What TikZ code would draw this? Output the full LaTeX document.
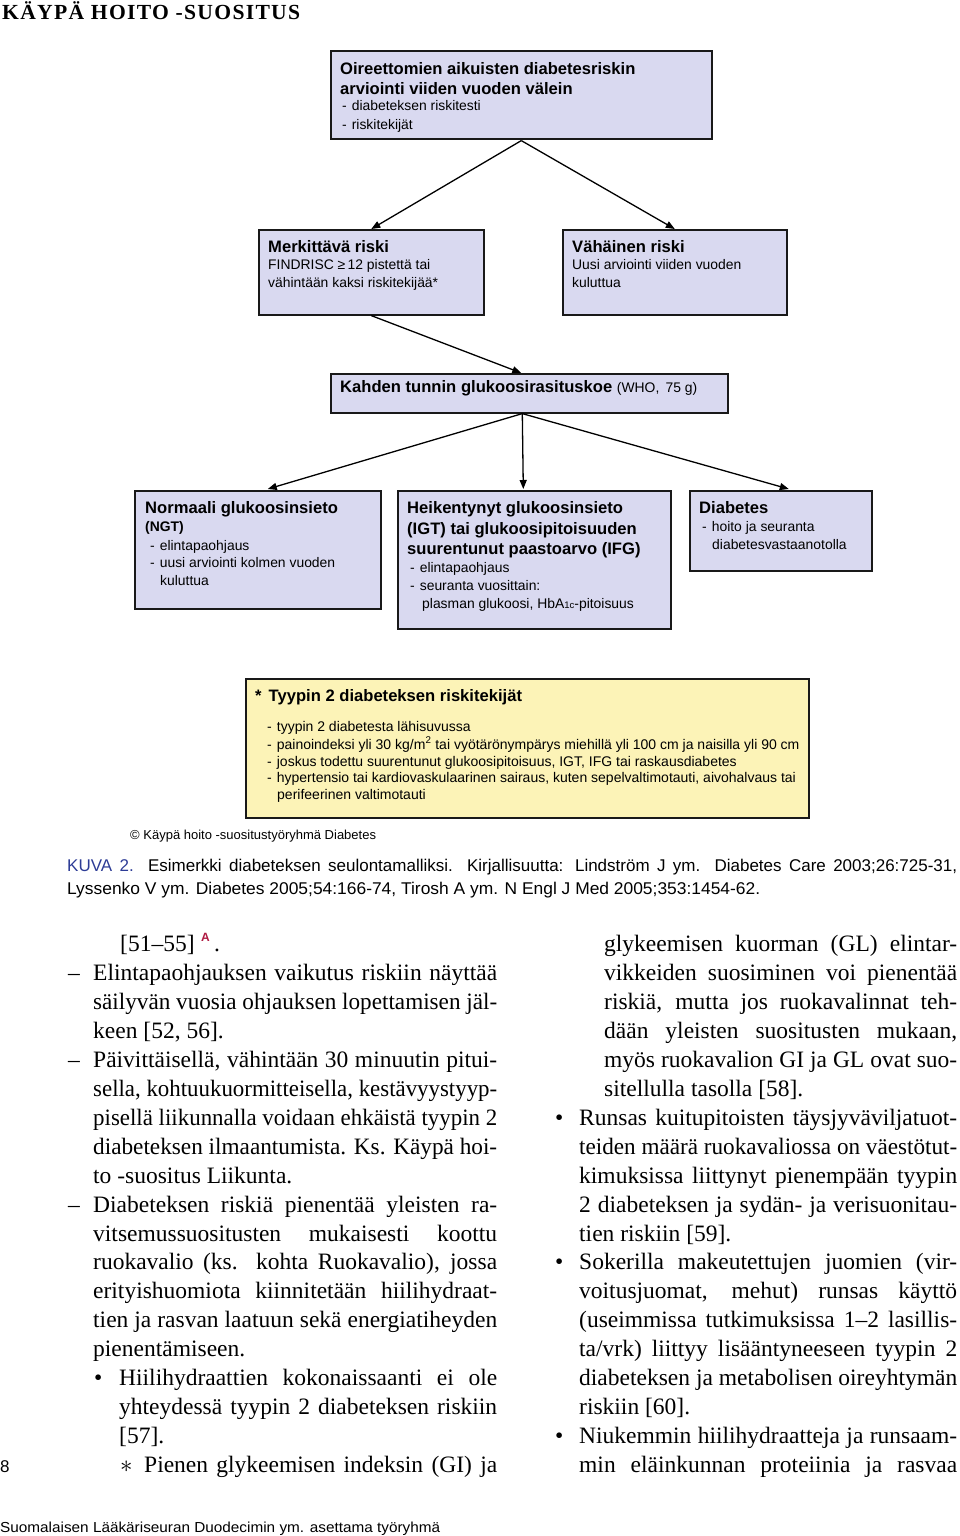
\documentclass[tikz,border=0pt]{standalone}
\usepackage{fontspec}
\usepackage{graphicx}
\setmainfont{Liberation Serif}
\newfontfamily\arial{Liberation Sans}
\newfontfamily\ttlfont[LetterSpace=6]{Liberation Serif}
\usetikzlibrary{arrows.meta,calc}
\definecolor{lav}{RGB}{217,217,240}
\definecolor{yel}{RGB}{252,243,183}
\definecolor{kuva}{RGB}{45,60,150}
\definecolor{reda}{RGB}{175,25,65}
\newsavebox\lbox
\newcommand\jl[2]{\sbox\lbox{#2}\ifdim\wd\lbox>#1\relax\resizebox{#1}{\height}{\usebox\lbox}\else\makebox[#1][s]{#2}\fi}
\newcommand\fitw[2]{\resizebox{#1}{\height}{#2}}
\tikzset{
  box/.style={draw=black!90, line width=1.6pt, fill=lav, inner sep=0pt, anchor=north west},
  ybox/.style={box, fill=yel},
  hd/.style={anchor=base west, inner sep=0pt, font=\arial\bfseries\fontsize{16.6}{19}\selectfont},
  lbl/.style={anchor=base west, inner sep=0pt, font=\arial\fontsize{13.9}{16}\selectfont},
  ylbl/.style={anchor=base west, inner sep=0pt, font=\arial\fontsize{14}{16}\selectfont},
  arr/.style={line width=1.3pt, -{Triangle[length=9pt,width=7pt]}},
  body/.style={anchor=base west, inner sep=0pt, font=\fontsize{23.5}{29}\selectfont},
  captxt/.style={anchor=base west, inner sep=0pt, font=\arial\fontsize{17}{20}\selectfont},
}
\begin{document}
\begin{tikzpicture}[x=1pt,y=-1pt]
\useasboundingbox (0,0) rectangle (960,1536);
\fill[white] (0,0) rectangle (960,1536);

% title
\node[anchor=base west, inner sep=0pt, font=\ttlfont\bfseries\fontsize{21.5}{24}\selectfont] (title) at (2,20) {\fitw{298pt}{KÄYPÄ HOITO -SUOSITUS}};

% boxes
\node[box, minimum width=381pt, minimum height=88pt] (top) at (330,50) {};
\node[box, minimum width=225pt, minimum height=85pt] (merk) at (258,229) {};
\node[box, minimum width=224pt, minimum height=85pt] (vah) at (562,229) {};
\node[box, minimum width=397pt, minimum height=39pt] (kah) at (330,373) {};
\node[box, minimum width=246pt, minimum height=118pt] (norm) at (134,490) {};
\node[box, minimum width=273pt, minimum height=138pt] (heik) at (397,490) {};
\node[box, minimum width=182pt, minimum height=80pt] (diab) at (689,490) {};
\node[ybox, minimum width=563pt, minimum height=139pt] (yb) at (245,678) {};

% connectors
\draw[arr] ($(top.south)+(0,1)$) -- (merk.north);
\draw[arr] ($(top.south)+(0,1)$) -- (vah.north);
\draw[arr] (merk.south) -- ($(kah.north)+(-8,0)$);
\draw[arr] ($(kah.south)+(-7,0)$) -- ($(norm.north)+(10,-1)$);
\draw[arr] ($(kah.south)+(-7,0)$) -- ($(heik.north)+(-11,-1)$);
\draw[arr] ($(kah.south)+(-7,0)$) -- ($(diab.north)+(8,-1)$);

% top box text
\node[hd] (t1) at (340,75) {Oireettomien aikuisten diabetesriskin};
\node[hd] (t2) at (340,95) {arviointi viiden vuoden välein};
\node[lbl] (t3) at (342,111) {-\hspace{5pt}diabeteksen riskitesti};
\node[lbl] (t4) at (342,130) {-\hspace{5pt}riskitekijät};

% merk
\node[hd] (m1) at (268,252) {Merkittävä riski};
\node[lbl] (m2) at (268,269) {FINDRISC ≥\,12 pistettä tai};
\node[lbl] (m3) at (268,287) {vähintään kaksi riskitekijää*};

% vah
\node[hd] (v1) at (572,252) {Vähäinen riski};
\node[lbl] (v2) at (572,269) {Uusi arviointi viiden vuoden};
\node[lbl] (v3) at (572,287) {kuluttua};

% kah
\node[hd] (k1) at (340,392) {Kahden tunnin glukoosirasituskoe {\mdseries\fontsize{13.9}{16}\selectfont (WHO,\, 75 g)}};

% norm
\node[hd] (n1) at (145,513) {Normaali glukoosinsieto};
\node[lbl, font=\arial\bfseries\fontsize{13.9}{16}\selectfont] (n2) at (145,531) {(NGT)};
\node[lbl] (n3) at (150,550) {-\hspace{5pt}elintapaohjaus};
\node[lbl] (n4) at (150,567) {-\hspace{5pt}uusi arviointi kolmen vuoden};
\node[lbl] (n5) at (160,585) {kuluttua};

% heik
\node[hd] (h1) at (407,513) {Heikentynyt glukoosinsieto};
\node[hd] (h2) at (407,534) {(IGT) tai glukoosipitoisuuden};
\node[hd] (h3) at (407,554) {suurentunut paastoarvo (IFG)};
\node[lbl] (h4) at (410,572) {-\hspace{5pt}elintapaohjaus};
\node[lbl] (h5) at (410,590) {-\hspace{5pt}seuranta vuosittain:};
\node[lbl] (h6) at (422,608) {plasman glukoosi, HbA{\fontsize{9.5}{10}\selectfont 1c}-pitoisuus};

% diab
\node[hd] (d1) at (699,513) {Diabetes};
\node[lbl] (d2) at (702,531) {-\hspace{5pt}hoito ja seuranta};
\node[lbl] (d3) at (712,549) {diabetesvastaanotolla};

% yellow
\node[hd] (y1) at (255,701) {*\hspace{7pt}Tyypin 2 diabeteksen riskitekijät};
\node[ylbl] (y2) at (267,731) {-\hspace{5pt}tyypin 2 diabetesta lähisuvussa};
\node[ylbl] (y3) at (267,749) {-\hspace{5pt}painoindeksi yli 30 kg/m\textsuperscript{2} tai vyötärönympärys miehillä yli 100 cm ja naisilla yli 90 cm};
\node[ylbl] (y4) at (267,766) {-\hspace{5pt}joskus todettu suurentunut glukoosipitoisuus, IGT, IFG tai raskausdiabetes};
\node[ylbl] (y5) at (267,782) {-\hspace{5pt}hypertensio tai kardiovaskulaarinen sairaus, kuten sepelvaltimotauti, aivohalvaus tai};
\node[ylbl] (y6) at (277,799) {perifeerinen valtimotauti};

% copyright and caption
\node[anchor=base west, inner sep=0pt, font=\arial\fontsize{13}{15}\selectfont] (copy) at (130,839) {© Käypä hoito -suositustyöryhmä Diabetes};
\node[captxt] (c1) at (67,871) {\jl{890pt}{{\color{kuva}KUVA 2.} Esimerkki diabeteksen seulontamalliksi. Kirjallisuutta: Lindström J ym. Diabetes Care 2003;26:725-31,}};
\node[captxt] (c2) at (67,894) {\fitw{693pt}{Lyssenko V ym. Diabetes 2005;54:166-74, Tirosh A ym. N Engl J Med 2005;353:1454-62.}};

% left column
\node[body] (la1) at (120,951) {[51–55]};
\node[anchor=base west, inner sep=0pt, font=\arial\bfseries\fontsize{12}{14}\selectfont, text=reda] (supA) at (201,941) {A};
\node[body] (la1b) at (214,951) {.};
\node[body] (da1) at (68,980) {–};
\node[body] (la2) at (93,980) {\jl{404pt}{Elintapaohjauksen vaikutus riskiin näyttää}};
\node[body] (la3) at (93,1009) {\jl{404pt}{säilyvän vuosia ohjauksen lopettamisen jäl-}};
\node[body] (la4) at (93,1038) {keen [52, 56].};
\node[body] (da2) at (68,1067) {–};
\node[body] (la5) at (93,1067) {\jl{404pt}{Päivittäisellä, vähintään 30 minuutin pitui-}};
\node[body] (la6) at (93,1096) {\jl{404pt}{sella, kohtuukuormitteisella, kestävyystyyp-}};
\node[body] (la7) at (93,1125) {\jl{404pt}{pisellä liikunnalla voidaan ehkäistä tyypin 2}};
\node[body] (la8) at (93,1154) {\jl{404pt}{diabeteksen ilmaantumista. Ks. Käypä hoi-}};
\node[body] (la9) at (93,1183) {to -suositus Liikunta.};
\node[body] (da3) at (68,1212) {–};
\node[body] (la10) at (93,1212) {\jl{404pt}{Diabeteksen riskiä pienentää yleisten ra-}};
\node[body] (la11) at (93,1241) {\jl{404pt}{vitsemussuositusten mukaisesti koottu}};
\node[body] (la12) at (93,1269) {\jl{404pt}{ruokavalio (ks. kohta Ruokavalio), jossa}};
\node[body] (la13) at (93,1298) {\jl{404pt}{erityishuomiota kiinnitetään hiilihydraat-}};
\node[body] (la14) at (93,1327) {\jl{404pt}{tien ja rasvan laatuun sekä energiatiheyden}};
\node[body] (la15) at (93,1356) {pienentämiseen.};
\node[body] (bu1) at (94,1385) {•};
\node[body] (la16) at (119,1385) {\jl{378pt}{Hiilihydraattien kokonaissaanti ei ole}};
\node[body] (la17) at (119,1414) {\jl{378pt}{yhteydessä tyypin 2 diabeteksen riskiin}};
\node[body] (la18) at (119,1443) {[57].};
\node[body] (as1) at (120,1472) {$\ast$};
\node[body] (la19) at (144,1472) {\jl{353pt}{Pienen glykeemisen indeksin (GI) ja}};

% right column
\node[body] (ra1) at (604,951) {\jl{353pt}{glykeemisen kuorman (GL) elintar-}};
\node[body] (ra2) at (604,980) {\jl{353pt}{vikkeiden suosiminen voi pienentää}};
\node[body] (ra3) at (604,1009) {\jl{353pt}{riskiä, mutta jos ruokavalinnat teh-}};
\node[body] (ra4) at (604,1038) {\jl{353pt}{dään yleisten suositusten mukaan,}};
\node[body] (ra5) at (604,1067) {\jl{353pt}{myös ruokavalion GI ja GL ovat suo-}};
\node[body] (ra6) at (604,1096) {sitellulla tasolla [58].};
\node[body] (bu2) at (555,1125) {•};
\node[body] (ra7) at (579,1125) {\jl{378pt}{Runsas kuitupitoisten täysjyväviljatuot-}};
\node[body] (ra8) at (579,1154) {\jl{378pt}{teiden määrä ruokavaliossa on väestötut-}};
\node[body] (ra9) at (579,1183) {\jl{378pt}{kimuksissa liittynyt pienempään tyypin}};
\node[body] (ra10) at (579,1212) {\jl{378pt}{2 diabeteksen ja sydän- ja verisuonitau-}};
\node[body] (ra11) at (579,1241) {tien riskiin [59].};
\node[body] (bu3) at (555,1269) {•};
\node[body] (ra12) at (579,1269) {\jl{378pt}{Sokerilla makeutettujen juomien (vir-}};
\node[body] (ra13) at (579,1298) {\jl{378pt}{voitusjuomat, mehut) runsas käyttö}};
\node[body] (ra14) at (579,1327) {\jl{378pt}{(useimmissa tutkimuksissa 1–2 lasillis-}};
\node[body] (ra15) at (579,1356) {\jl{378pt}{ta/vrk) liittyy lisääntyneeseen tyypin 2}};
\node[body] (ra16) at (579,1385) {\jl{378pt}{diabeteksen ja metabolisen oireyhtymän}};
\node[body] (ra17) at (579,1414) {riskiin [60].};
\node[body] (bu4) at (555,1443) {•};
\node[body] (ra18) at (579,1443) {\jl{378pt}{Niukemmin hiilihydraatteja ja runsaam-}};
\node[body] (ra19) at (579,1472) {\jl{378pt}{min eläinkunnan proteiinia ja rasvaa}};

% page number and footer
\node[anchor=base west, inner sep=0pt, font=\arial\fontsize{17}{20}\selectfont] (pg) at (0,1472) {8};
\node[anchor=base west, inner sep=0pt, font=\arial\fontsize{14.5}{17}\selectfont] (foot) at (0,1532) {\fitw{440pt}{Suomalaisen Lääkäriseuran Duodecimin ym. asettama työryhmä}};
\end{tikzpicture}
\end{document}
